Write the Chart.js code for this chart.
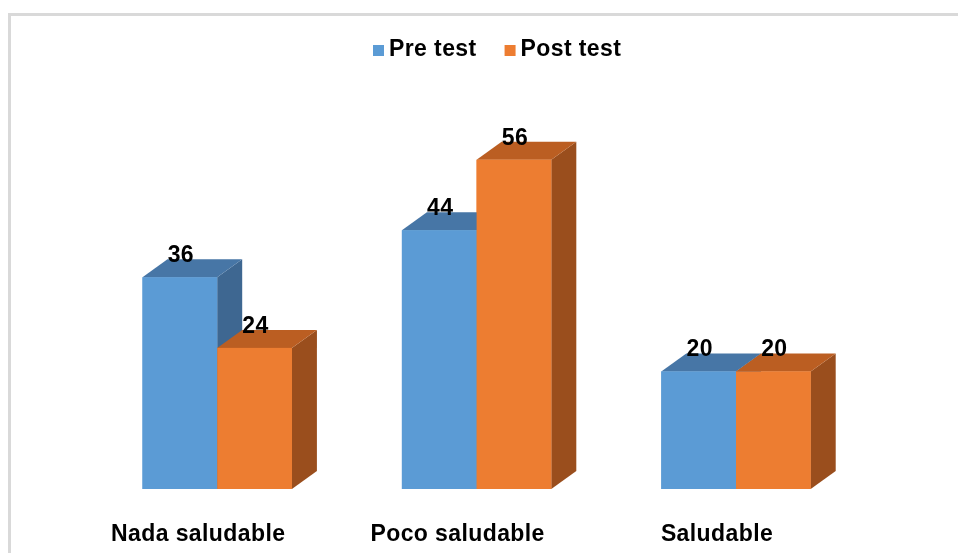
<!DOCTYPE html>
<html>
<head>
<meta charset="utf-8">
<title>Pre test / Post test</title>
<script src="https://cdn.jsdelivr.net/npm/chart.js@4.4.1/dist/chart.umd.min.js"></script>
<style>
  body { margin: 0; background: #ffffff; }
  canvas { display: block; }
</style>
</head>
<body>
<canvas id="myChart" width="958" height="553"></canvas>
<script>
// Categories and series values
var categories = ['Nada saludable', 'Poco saludable', 'Saludable'];
var preTest = [36, 44, 20];
var postTest = [24, 56, 20];
var seriesNames = ['Pre test', 'Post test'];

// Front, top and side colours for the 3D boxes
var frontColors = ['#5b9bd5', '#ed7d31'];
var topColors = ['#4776a6', '#bb5e22'];
var sideColors = ['#3e6791', '#9a4e1d'];

var labelFont = 'bold 23px "Liberation Sans", Arial, sans-serif';
var depthX = 25; // how far the back face sits to the right
var depthY = 18; // and how far up

Chart.defaults.font.family = '"Liberation Sans", Arial, sans-serif';

// White background and the light grey frame
var framePlugin = {
  id: 'frame',
  beforeDraw: function(chart) {
    var ctx = chart.ctx;
    ctx.letterSpacing = '0.4px'; // slightly looser text, kept for all labels
    ctx.save();
    ctx.fillStyle = '#ffffff';
    ctx.fillRect(0, 0, chart.width, chart.height);
    ctx.strokeStyle = '#d9d9d9';
    ctx.lineWidth = 3;
    ctx.strokeRect(9.5, 14.5, chart.width + 20, chart.height + 20);
    ctx.restore();
  }
};

// Top and side faces, then the front again so boxes overlap in order
var boxPlugin = {
  id: 'box3d',
  afterDatasetsDraw: function(chart) {
    var ctx = chart.ctx;
    ctx.save();
    for (var j = 0; j < categories.length; j++) {
      for (var i = 0; i < chart.data.datasets.length; i++) {
        var bar = chart.getDatasetMeta(i).data[j];
        var p = bar.getProps(['x', 'y', 'base', 'width'], true);
        var x0 = p.x - p.width / 2;
        var x1 = p.x + p.width / 2;

        // side
        ctx.fillStyle = sideColors[i];
        ctx.beginPath();
        ctx.moveTo(x1, p.y);
        ctx.lineTo(x1 + depthX, p.y - depthY);
        ctx.lineTo(x1 + depthX, p.base - depthY);
        ctx.lineTo(x1, p.base);
        ctx.closePath();
        ctx.fill();

        // top
        ctx.fillStyle = topColors[i];
        ctx.beginPath();
        ctx.moveTo(x0, p.y);
        ctx.lineTo(x1, p.y);
        ctx.lineTo(x1 + depthX, p.y - depthY);
        ctx.lineTo(x0 + depthX, p.y - depthY);
        ctx.closePath();
        ctx.fill();

        // front
        ctx.fillStyle = frontColors[i];
        ctx.fillRect(x0, p.y, p.width, p.base - p.y);
      }
    }

    // value labels above each box
    ctx.font = labelFont;
    ctx.fillStyle = '#000000';
    ctx.textAlign = 'center';
    ctx.textBaseline = 'alphabetic';
    chart.data.datasets.forEach(function(ds, i) {
      chart.getDatasetMeta(i).data.forEach(function(bar, j) {
        ctx.fillText(ds.data[j], bar.x + 1, bar.y - 15);
      });
    });
    ctx.restore();
  }
};

// Legend: small squares with the series names
var legendPlugin = {
  id: 'legendBoxes',
  afterDraw: function(chart) {
    var ctx = chart.ctx;
    ctx.save();
    ctx.font = labelFont;
    ctx.textAlign = 'left';
    ctx.textBaseline = 'alphabetic';
    var x = 373;
    var baseline = 56;
    seriesNames.forEach(function(name, i) {
      ctx.fillStyle = frontColors[i];
      ctx.fillRect(x, baseline - 11, 11, 11);
      ctx.fillStyle = '#000000';
      ctx.fillText(name, x + 16, baseline);
      x += 16 + ctx.measureText(name).width + 28;
    });
    ctx.restore();
  }
};

var ctx = document.getElementById('myChart').getContext('2d');

var myChart = new Chart(ctx, {
  type: 'bar',
  data: {
    labels: categories,
    datasets: [{
      label: seriesNames[0],
      data: preTest,
      backgroundColor: frontColors[0],
      borderWidth: 0
    }, {
      label: seriesNames[1],
      data: postTest,
      backgroundColor: frontColors[1],
      borderWidth: 0
    }]
  },
  options: {
    responsive: false,
    animation: false,
    devicePixelRatio: 1,
    layout: {
      padding: { left: 87.5, right: 92.3, top: 77.4, bottom: 0 }
    },
    datasets: {
      bar: {
        barPercentage: 1,
        categoryPercentage: 0.576
      }
    },
    scales: {
      x: {
        grid: { display: false },
        border: { display: false },
        ticks: {
          color: '#000000',
          font: { size: 23, weight: 'bold' },
          padding: 24,
          labelOffset: -19,
          maxRotation: 0
        },
        afterFit: function(scale) {
          scale.height = 64;
        }
      },
      y: {
        display: false,
        min: 0,
        max: 70
      }
    },
    plugins: {
      legend: { display: false },
      tooltip: { enabled: false }
    }
  },
  plugins: [framePlugin, boxPlugin, legendPlugin]
});
</script>
</body>
</html>
